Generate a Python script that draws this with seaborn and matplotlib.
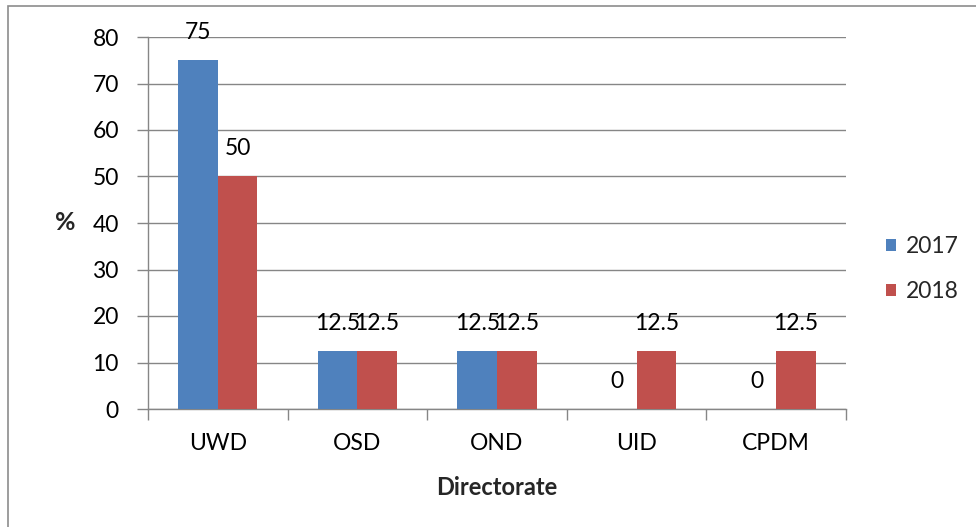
import matplotlib
matplotlib.use("Agg")
import matplotlib.pyplot as plt
import seaborn as sns
import pandas as pd
from matplotlib.patches import Rectangle

categories = ["UWD", "OSD", "OND", "UID", "CPDM"]
years = ["2017", "2018"]
values_2017 = [75, 12.5, 12.5, 0, 0]
values_2018 = [50, 12.5, 12.5, 12.5, 12.5]
y_ticks = [0, 10, 20, 30, 40, 50, 60, 70, 80]

df = pd.DataFrame({
    "Directorate": categories * 2,
    "Year": [years[0]] * len(categories) + [years[1]] * len(categories),
    "Value": values_2017 + values_2018,
})

sns.set_theme(style="white")
plt.rcParams["font.family"] = ["Lato", "DejaVu Sans"]

FS = 16.5
W, H = 976, 527
fig = plt.figure(figsize=(W / 100, H / 100), dpi=100)
ax = fig.add_axes([148 / W, (H - 409) / H, 698 / W, 372 / H])

palette = {"2017": "#4F81BD", "2018": "#C0504D"}
sns.barplot(data=df, x="Directorate", y="Value", hue="Year", palette=palette,
            order=categories, hue_order=years, width=0.566, ax=ax,
            saturation=1, linewidth=0, errorbar=None, legend=True, zorder=3)

grid_c = "#868686"
ax.set_ylim(0, 80)
ax.set_xlim(-0.5, len(categories) - 0.5)
ax.set_yticks(y_ticks)
ax.set_yticklabels([str(t) for t in y_ticks])
ax.yaxis.grid(True, color=grid_c, linewidth=1.0, zorder=0)
ax.set_axisbelow(True)
for s in ["top", "right"]:
    ax.spines[s].set_visible(False)
for s in ["left", "bottom"]:
    ax.spines[s].set_color(grid_c)
    ax.spines[s].set_linewidth(1.0)

# Excel-style category boundary ticks
ax.set_xticks([i - 0.5 for i in range(len(categories) + 1)], minor=False)
ax.set_xticklabels([""] * (len(categories) + 1))
ax.set_xticks(range(len(categories)), minor=True)
ax.set_xticklabels(categories, minor=True)
ax.tick_params(axis="x", which="major", length=8, color=grid_c, width=1, direction="out", bottom=True)
ax.tick_params(axis="x", which="minor", length=0, labelsize=FS, pad=17, colors="black")
ax.tick_params(axis="y", length=8, color=grid_c, width=1, direction="out", left=True,
               labelsize=FS, pad=13, labelcolor="black")

ax.set_xlabel("Directorate", fontsize=17, fontweight="bold", labelpad=16)
ax.set_ylabel("%", fontsize=18, fontweight="bold", rotation=0, va="center", ha="center")
ax.yaxis.set_label_coords(-0.119, 0.5)

# data labels
for cont in ax.containers:
    for bar in cont:
        v = bar.get_height()
        xc = bar.get_x() + bar.get_width() / 2
        ax.annotate(f"{v:g}", (xc, v), xytext=(0, 20), textcoords="offset points",
                    ha="center", va="center", fontsize=FS, color="black",
                    annotation_clip=False)

leg = ax.legend(loc="center left", frameon=False, fontsize=FS,
                handlelength=0.45, handleheight=0.45,
                handletextpad=0.4, labelspacing=1.05, borderaxespad=0, borderpad=0)
leg.set_bbox_to_anchor(((886 - 148) / 698, (409 - 269) / 372), transform=ax.transAxes)

fig.patches.append(Rectangle((8 / W, -0.1), 1.2, (H - 6) / H + 0.1, transform=fig.transFigure,
                             fill=False, edgecolor="#8c8c8c", linewidth=1.2, figure=fig))

fig.savefig("out.png", dpi=100)
